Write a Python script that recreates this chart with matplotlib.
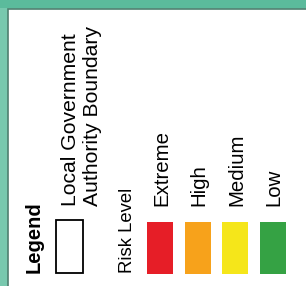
import matplotlib.pyplot as plt
from matplotlib.patches import Rectangle

levels = ["Extreme", "High", "Medium", "Low"]
level_colors = ["#E61E27", "#F7A21B", "#F5E61A", "#35A244"]
boundary_lines = ["Local Government", "Authority Boundary"]

plt.rcParams['font.family'] = ['Liberation Sans', 'DejaVu Sans']

fig = plt.figure(figsize=(3.06, 2.86), dpi=100)
fig.patch.set_facecolor("#78C8AE")
ax = fig.add_axes([0, 0, 1, 1])
ax.set_xlim(0, 306)
ax.set_ylim(286, 0)
ax.axis("off")

# white legend panel over the map
ax.add_patch(Rectangle((8, 9), 300, 280, facecolor="white", edgecolor="#4F7F70", lw=1.2))
ax.add_patch(Rectangle((0, 0), 306, 8, facecolor="#5BBB9C", edgecolor="none"))

ax.text(34, 273, "Legend", rotation=90, ha="center", va="bottom",
        fontsize=14.5, fontweight="bold")

# boundary entry
ax.add_patch(Rectangle((56, 220), 27, 53, facecolor="white", edgecolor="black", lw=1.3))
ax.text(71, 206, boundary_lines[0], rotation=90, ha="center", va="bottom", fontsize=15.2)
ax.text(92, 206, boundary_lines[1], rotation=90, ha="center", va="bottom", fontsize=15.2)

ax.text(127, 273, "Risk Level", rotation=90, ha="center", va="bottom", fontsize=13.3)

x0, step, w = 147, 37.5, 26
for i, (lab, col) in enumerate(zip(levels, level_colors)):
    x = x0 + i * step
    ax.add_patch(Rectangle((x, 222), w, 52, facecolor=col, edgecolor="none"))
    ax.text(x + w / 2 + 1.5, 206, lab, rotation=90, ha="center", va="bottom", fontsize=14.7)

fig.savefig("out.png", dpi=100)
